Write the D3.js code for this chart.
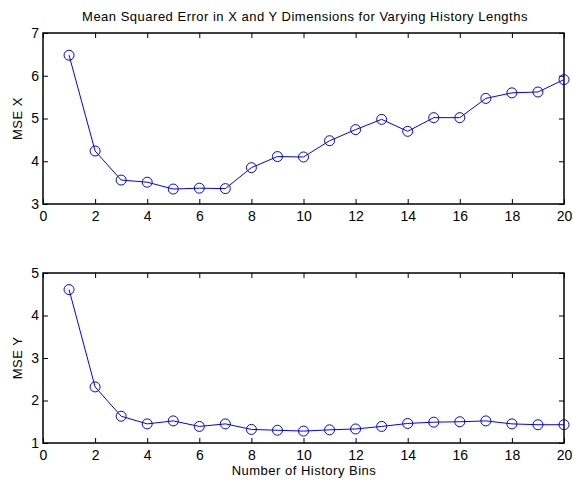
<!DOCTYPE html>
<html lang="en">
<head>
<meta charset="UTF-8">
<title>MSE vs History Length</title>
<script src="https://d3js.org/d3.v7.min.js"></script>
<style>
  body { margin: 0; background: #fff; }
  svg text { font-family: "Liberation Sans", Arial, sans-serif; fill: #000; }
</style>
</head>
<body>
<div id="chart"></div>
<script>
// history bins 1..20
var bins = [1,2,3,4,5,6,7,8,9,10,11,12,13,14,15,16,17,18,19,20]
var mseX = [6.48,4.24,3.56,3.51,3.35,3.37,3.36,3.85,4.11,4.10,4.48,4.74,4.98,4.70,5.02,5.02,5.47,5.60,5.62,5.91]
var mseY = [4.61,2.32,1.63,1.45,1.52,1.39,1.45,1.32,1.30,1.28,1.31,1.33,1.39,1.46,1.49,1.50,1.52,1.45,1.43,1.43]
var xTicks = [0,2,4,6,8,10,12,14,16,18,20]
var yTicksX = [3,4,5,6,7]
var yTicksY = [1,2,3,4,5]

var w = 573, h = 480
var left = 43, right = 564

var svg = d3.select("#chart").append("svg").attr("width", w).attr("height", h)

var x = d3.scaleLinear().domain([0,20]).range([left, right])
var fmt = d3.format("d")

function panel(top, bottom, vals, yDomain, yTicks, ylab) {
  var y = d3.scaleLinear().domain(yDomain).range([bottom, top])
  var g = svg.append("g")

  // inward ticks on all four sides, like matlab box
  g.append("g").attr("transform","translate(0,"+bottom+")")
    .call(d3.axisBottom(x).tickValues(xTicks).tickFormat(fmt).tickSizeInner(-5).tickSizeOuter(0).tickPadding(7))
  g.append("g").attr("transform","translate(0,"+top+")")
    .call(d3.axisTop(x).tickValues(xTicks).tickSizeInner(-5).tickSizeOuter(0).tickFormat(""))
  g.append("g").attr("transform","translate("+left+",0)")
    .call(d3.axisLeft(y).tickValues(yTicks).tickFormat(fmt).tickSizeInner(-5).tickSizeOuter(0).tickPadding(4))
  g.append("g").attr("transform","translate("+right+",0)")
    .call(d3.axisRight(y).tickValues(yTicks).tickSizeInner(-5).tickSizeOuter(0).tickFormat(""))

  g.selectAll(".domain").remove()
  g.selectAll(".tick line").attr("stroke","#000").attr("stroke-width",1)
  g.selectAll(".tick text").style("font-size","14px")

  g.append("rect").attr("x", left).attr("y", top)
    .attr("width", right-left).attr("height", bottom-top)
    .attr("fill","none").attr("stroke","#000").attr("stroke-width",1.5)

  var line = d3.line().x(function(d,i){return x(bins[i])}).y(function(d){return y(d)})
  g.append("path").datum(vals).attr("d", line)
    .attr("fill","none").attr("stroke","#0000ff").attr("stroke-width",1)

  g.selectAll("circle").data(vals).enter().append("circle")
    .attr("cx", function(d,i){return x(bins[i])})
    .attr("cy", function(d){return y(d)})
    .attr("r", 5)
    .attr("fill","none").attr("stroke","#0000ff").attr("stroke-width",1)

  g.append("text")
    .attr("transform","translate(22,"+((top+bottom)/2)+") rotate(-90)")
    .attr("text-anchor","middle")
    .style("font-size","13px").style("letter-spacing","0.5px")
    .text(ylab)
}

panel(33, 204, mseX, [3,7], yTicksX, "MSE X")
panel(273, 443, mseY, [1,5], yTicksY, "MSE Y")

svg.append("text").attr("x", 305).attr("y", 21)
  .attr("text-anchor","middle").style("font-size","13px").style("letter-spacing","0.5px")
  .text("Mean Squared Error in X and Y Dimensions for Varying History Lengths")

svg.append("text").attr("x", 304).attr("y", 475)
  .attr("text-anchor","middle").style("font-size","13px").style("letter-spacing","0.5px")
  .text("Number of History Bins")
</script>
</body>
</html>
